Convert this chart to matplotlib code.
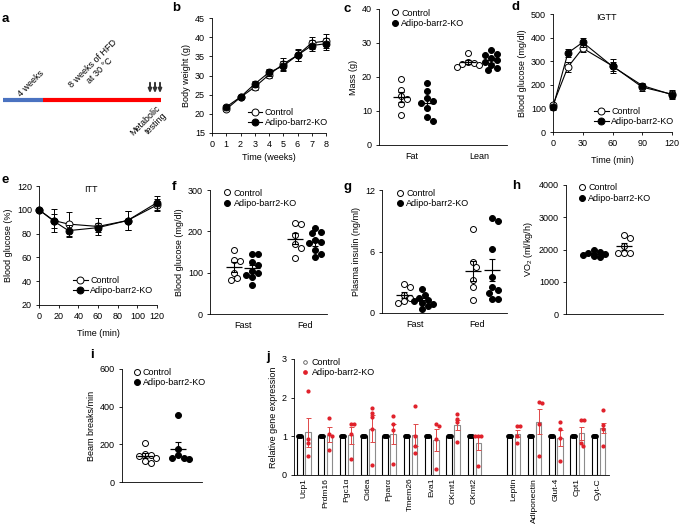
import numpy as np
import matplotlib
matplotlib.use('Agg')
import matplotlib.pyplot as plt
from matplotlib.lines import Line2D

plt.rcParams['font.family'] = ['Liberation Sans', 'DejaVu Sans']
plt.rcParams['mathtext.fontset'] = 'custom'
plt.rcParams['mathtext.rm'] = 'Liberation Sans'
plt.rcParams['font.size'] = 6.5
plt.rcParams['axes.linewidth'] = 0.6
plt.rcParams['xtick.major.width'] = 0.6
plt.rcParams['ytick.major.width'] = 0.6
plt.rcParams['xtick.major.size'] = 2.5
plt.rcParams['ytick.major.size'] = 2.5
plt.rcParams['xtick.major.pad'] = 2.5
plt.rcParams['ytick.major.pad'] = 2.5
plt.rcParams['axes.labelpad'] = 3

# ---------------- data ----------------
weeks = [1, 2, 3, 4, 5, 6, 7, 8]
bw_ctrl = [21.2, 24.3, 27.0, 30.2, 33.0, 35.3, 38.5, 39.0]
bw_ctrl_err = [0.5, 0.5, 0.8, 0.9, 1.5, 1.5, 1.5, 1.8]
bw_ko = [21.8, 24.4, 27.8, 30.8, 32.5, 35.3, 37.8, 38.3]
bw_ko_err = [0.4, 0.4, 0.8, 1.0, 1.3, 1.4, 1.4, 1.6]

fat_ctrl = [19.5, 16.3, 14.5, 13.5, 12.0, 8.7]
fat_ko = [18.3, 16.0, 13.8, 12.8, 12.5, 10.8, 8.2, 7.2]
lean_ctrl = [27.2, 24.3, 24.0, 23.8, 23.5, 23.0]
lean_ko = [27.8, 26.8, 26.5, 25.5, 25.0, 24.3, 23.5, 22.5, 22.0]

igtt_t = [0, 15, 30, 60, 90, 120]
igtt_ctrl = [115, 275, 355, 280, 190, 160]
igtt_ctrl_err = [10, 20, 15, 28, 15, 15]
igtt_ko = [105, 335, 380, 278, 197, 158]
igtt_ko_err = [10, 18, 18, 20, 12, 18]

itt_t = [0, 15, 30, 60, 90, 120]
itt_ctrl = [100, 91, 88, 86, 91, 104]
itt_ctrl_err = [0, 9.5, 10, 7, 8, 5]
itt_ko = [100, 90.5, 82.5, 85, 91, 106]
itt_ko_err = [0, 6, 5, 4, 8, 6]

glc_fast_ctrl = [155, 130, 128, 100, 88, 82]
glc_fast_ko = [145, 145, 125, 118, 105, 100, 95, 90, 70]
glc_fed_ctrl = [220, 218, 190, 170, 160, 135]
glc_fed_ko = [207, 198, 195, 178, 175, 172, 155, 145, 137]

ins_fast_ctrl = [2.8, 2.5, 1.8, 1.5, 1.2, 1.0]
ins_fast_ko = [2.3, 1.8, 1.5, 1.3, 1.2, 1.0, 0.9, 0.7, 0.4]
ins_fed_ctrl = [8.2, 5.0, 4.5, 3.2, 2.5, 1.3]
ins_fed_ko = [9.3, 9.0, 6.2, 3.5, 2.5, 2.2, 2.0, 1.4, 1.4]

vo2_ko = [1980, 1930, 1900, 1870, 1840, 1800, 1760]
vo2_ctrl = [2450, 2350, 2100, 1900, 1900, 1900]

beam_ctrl = [205, 150, 145, 140, 130, 110, 100]
beam_ko = [355, 175, 145, 130, 125, 120]

genes = ['Ucp1', 'Prdm16', 'Pgc1α', 'Cidea', 'Pparα', 'Tmem26', 'Eva1', 'CKmt1',
         'CKmt2', 'Leptin', 'Adiponectin', 'Glut-4', 'Cpt1', 'Cyt-C']
ctrl_mean = [1.0] * 14
ko_mean = [1.1, 1.04, 1.03, 1.2, 1.06, 1.03, 0.9, 1.29, 0.82, 1.07, 1.38, 0.96, 1.08, 1.21]
ko_sem = [0.37, 0.19, 0.22, 0.34, 0.26, 0.28, 0.28, 0.12, 0.17, 0.1, 0.33, 0.21, 0.17, 0.13]
ko_points = [[2.18, 0.92, 0.84, 0.5], [1.48, 1.05, 1.02, 0.64], [1.33, 1.31, 1.05, 0.41],
             [1.72, 1.61, 1.5, 1.2, 0.27], [1.53, 1.31, 1.16, 0.29], [1.79, 1.0, 0.75, 0.58],
             [1.31, 1.28, 0.92, 0.15], [1.59, 1.44, 1.36, 0.85], [1.0, 1.0, 1.0, 0.24],
             [1.26, 1.26, 1.0, 0.82], [1.88, 1.87, 1.31, 0.49], [1.38, 1.2, 0.95, 0.35],
             [1.42, 1.42, 0.82, 0.75], [1.67, 1.29, 1.18, 0.75]]
ctrl_points = [[1.0, 1.0, 1.0, 1.0]] * 14

# ---------------- layout helpers ----------------
W, H = 679, 524
fig = plt.figure(figsize=(W / 100, H / 100), dpi=100)


def add_ax(l, t, r, b):
    ax = fig.add_axes([l / W, 1 - b / H, (r - l) / W, (b - t) / H])
    ax.spines['top'].set_visible(False)
    ax.spines['right'].set_visible(False)
    return ax


def label(x, y, s):
    fig.text(x / W, 1 - y / H, s, fontsize=9.5, fontweight='bold', ha='left', va='center')


def swarm_px(ax, vals, d):
    ys = ax.transData.transform(np.column_stack([np.zeros(len(vals)), vals]))[:, 1]
    placed, offs = [], []
    for yp in ys:
        cand = 0.0
        for k in range(60):
            cand = 0.0 if k == 0 else ((k + 1) // 2) * d * 0.5 * (1 if k % 2 else -1)
            if all((cand - ox) ** 2 + (yp - oy) ** 2 >= d * d * 0.9 for ox, oy in placed):
                break
        placed.append((cand, yp))
        offs.append(cand)
    return np.array(offs)


def dot_group(ax, xc, vals, filled, ms=4.3, d=5.6, hw=8):
    # x data units == pixels in these axes
    offs = swarm_px(ax, vals, d)
    ax.plot(xc + offs, vals, 'o', ms=ms, mfc='black' if filled else 'white', mec='black',
            mew=0.7, ls='none', clip_on=False, zorder=3)
    v = np.asarray(vals, float)
    m = v.mean()
    s = v.std(ddof=1) / np.sqrt(len(v))
    ax.hlines(m, xc - hw, xc + hw, color='k', lw=0.9, zorder=4)
    ax.errorbar(xc, m, yerr=s, fmt='none', ecolor='k', elinewidth=0.8, capsize=2.3,
                capthick=0.8, zorder=4)


def dot_legend(ax, loc, bbox, ms=4.3):
    h = [Line2D([], [], marker='o', ls='none', ms=ms, mfc='white', mec='k', mew=0.7),
         Line2D([], [], marker='o', ls='none', ms=ms, mfc='k', mec='k', mew=0.7)]
    ax.legend(h, ['Control', 'Adipo-barr2-KO'], loc=loc, bbox_to_anchor=bbox, frameon=False,
              handletextpad=0.2, labelspacing=0.15, borderaxespad=0, handlelength=1.0,
              fontsize=6.5)


def line_legend(ax, loc, bbox):
    h = [Line2D([], [], marker='o', color='k', lw=0.8, ms=5, mfc='white', mec='k', mew=0.7),
         Line2D([], [], marker='o', color='k', lw=0.8, ms=5, mfc='k', mec='k', mew=0.7)]
    ax.legend(h, ['Control', 'Adipo-barr2-KO'], loc=loc, bbox_to_anchor=bbox, frameon=False,
              handletextpad=0.3, labelspacing=0.15, borderaxespad=0, handlelength=1.6,
              fontsize=6.5)


def line_panel(ax, x, c, ce, k, ke):
    ax.errorbar(x, c, yerr=ce, color='k', lw=0.8, marker='o', ms=5, mfc='white', mec='k',
                mew=0.7, capsize=2.3, elinewidth=0.7, capthick=0.7, clip_on=False, zorder=3)
    ax.errorbar(x, k, yerr=ke, color='k', lw=0.8, marker='o', ms=5, mfc='k', mec='k',
                mew=0.7, capsize=2.3, elinewidth=0.7, capthick=0.7, clip_on=False, zorder=4)


# ---------------- a ----------------
axa = fig.add_axes([0, 1 - 170 / H, 170 / W, 170 / H])
axa.set_xlim(0, 170)
axa.set_ylim(170, 0)
axa.axis('off')
axa.plot([3, 43], [100, 100], color='#4a72c0', lw=3, solid_capstyle='butt')
axa.plot([43, 161], [100, 100], color='#ff0000', lw=3, solid_capstyle='butt')
for xa in [150, 155, 160]:
    axa.annotate('', xy=(xa, 96), xytext=(xa, 80),
                 arrowprops=dict(arrowstyle='-|>,head_width=0.15,head_length=0.35',
                                 color='#333333', lw=1.4))
axa.text(31, 84, '4 weeks', rotation=45, ha='center', va='center', fontsize=6.5)
axa.text(96, 67, '8 weeks of HFD\nat 30 °C', rotation=45, ha='center', va='center',
         fontsize=6.5, multialignment='center', linespacing=1.1)
axa.text(149, 124, 'Metabolic\ntesting', rotation=45, ha='center', va='center',
         fontsize=6.5, multialignment='right', linespacing=1.1)
label(2, 19, 'a')

# ---------------- b ----------------
axb = add_ax(212, 18, 326, 133)
line_panel(axb, weeks, bw_ctrl, bw_ctrl_err, bw_ko, bw_ko_err)
axb.set_xlim(0, 8)
axb.set_ylim(15, 45)
axb.set_xticks(range(0, 9))
axb.set_yticks(range(15, 46, 5))
axb.set_xlabel('Time (weeks)')
axb.set_ylabel('Body weight (g)')
line_legend(axb, 'lower right', (1.05, 0.02))
label(172, 8, 'b')

# ---------------- c ----------------
axc = add_ax(379, 9, 507, 145)
axc.set_xlim(0, 128)
axc.set_ylim(0, 40)
axc.set_yticks([0, 10, 20, 30, 40])
dot_group(axc, 22, fat_ctrl, False)
dot_group(axc, 48, fat_ko, True)
dot_group(axc, 89, lean_ctrl, False)
dot_group(axc, 112, lean_ko, True)
axc.set_xticks([33, 100])
axc.set_xticklabels(['Fat', 'Lean'])
axc.tick_params(axis='x', length=0, pad=5)
axc.set_ylabel('Mass (g)')
dot_legend(axc, 'upper left', (0.06, 1.03))
label(343, 9, 'c')

# ---------------- d ----------------
axd = add_ax(553, 14, 672, 132)
line_panel(axd, igtt_t, igtt_ctrl, igtt_ctrl_err, igtt_ko, igtt_ko_err)
axd.set_xlim(0, 120)
axd.set_ylim(0, 500)
axd.set_xticks([0, 30, 60, 90, 120])
axd.set_yticks(range(0, 501, 100))
axd.set_xlabel('Time (min)', labelpad=6)
axd.set_ylabel('Blood glucose (mg/dl)')
axd.text(0.45, 0.97, 'IGTT', transform=axd.transAxes, ha='center', va='center')
line_legend(axd, 'lower right', (1.05, 0.02))
label(512, 7, 'd')

# ---------------- e ----------------
axe = add_ax(39, 186, 157, 305)
line_panel(axe, itt_t, itt_ctrl, itt_ctrl_err, itt_ko, itt_ko_err)
axe.set_xlim(0, 120)
axe.set_ylim(20, 120)
axe.set_xticks(range(0, 121, 20))
axe.set_yticks(range(20, 121, 20))
axe.set_xlabel('Time (min)', labelpad=6)
axe.set_ylabel('Blood glucose (%)')
axe.text(0.44, 0.97, 'ITT', transform=axe.transAxes, ha='center', va='center')
line_legend(axe, 'lower right', (1.0, 0.05))
label(2, 180, 'e')

# ---------------- f ----------------
axf = add_ax(210, 190, 327, 314)
axf.set_xlim(0, 117)
axf.set_ylim(0, 300)
axf.set_yticks([0, 100, 200, 300])
dot_group(axf, 24, glc_fast_ctrl, False)
dot_group(axf, 42, glc_fast_ko, True)
dot_group(axf, 85, glc_fed_ctrl, False)
dot_group(axf, 105, glc_fed_ko, True)
axf.set_xticks([33, 95])
axf.set_xticklabels(['Fast', 'Fed'])
axf.tick_params(axis='x', length=0, pad=5)
axf.set_ylabel('Blood glucose (mg/dl)')
dot_legend(axf, 'upper left', (0.08, 1.04))
label(172, 187, 'f')

# ---------------- g ----------------
axg = add_ax(382, 190, 507, 313)
axg.set_xlim(0, 125)
axg.set_ylim(0, 12)
axg.set_yticks([0, 6, 12])
dot_group(axg, 22, ins_fast_ctrl, False)
dot_group(axg, 40, ins_fast_ko, True)
dot_group(axg, 91, ins_fed_ctrl, False)
dot_group(axg, 110, ins_fed_ko, True)
axg.set_xticks([33, 95])
axg.set_xticklabels(['Fast', 'Fed'])
axg.tick_params(axis='x', length=0, pad=5)
axg.set_ylabel('Plasma insulin (ng/ml)')
dot_legend(axg, 'upper left', (0.08, 1.04))
label(343, 187, 'g')

# ---------------- h ----------------
axh = add_ax(566, 185, 663, 314)
axh.set_xlim(0, 97)
axh.set_ylim(0, 4000)
axh.set_yticks(range(0, 4001, 1000))
dot_group(axh, 28, vo2_ko, True)
dot_group(axh, 58, vo2_ctrl, False)
axh.set_xticks([])
axh.set_ylabel('VO$_2$ (ml/kg/h)')
dot_legend(axh, 'upper left', (0.08, 1.04))
label(512, 186, 'h')

# ---------------- i ----------------
axi = add_ax(122, 369, 202, 482)
axi.set_xlim(0, 80)
axi.set_ylim(0, 600)
axi.set_yticks([0, 200, 400, 600])
dot_group(axi, 23, beam_ctrl, False)
dot_group(axi, 56, beam_ko, True)
axi.set_xticks([])
axi.set_ylabel('Beam breaks/min')
dot_legend(axi, 'upper left', (0.08, 1.04))
label(90, 355, 'i')

# ---------------- j ----------------
axj = add_ax(294, 359, 609, 475)
unit = 21.3
pos = np.array(list(range(9)) + [9.83 + k for k in range(5)])
axj.set_xlim(-10 / unit, (609 - 294 - 10) / unit)
axj.set_ylim(0, 3)
axj.set_yticks([0, 1, 2, 3])
bw = 0.26
off = 0.19
axj.bar(pos - off, ctrl_mean, width=bw, facecolor='white', edgecolor='black', lw=0.8, zorder=2)
axj.bar(pos + off, ko_mean, width=bw, facecolor='white', edgecolor='#8c8c8c', lw=0.8, zorder=2)
axj.errorbar(pos + off, ko_mean, yerr=ko_sem, fmt='none', ecolor='#e04848', elinewidth=0.7,
             capsize=1.8, capthick=0.7, zorder=3)
for i in range(len(genes)):
    cp = np.asarray(ctrl_points[i])
    axj.plot(pos[i] - off + np.linspace(-0.07, 0.07, len(cp)), cp, 'o', ms=2.4, color='black',
             ls='none', zorder=4)
    kp = np.asarray(ko_points[i])
    o = swarm_px(axj, kp, 3.0) / unit
    axj.plot(pos[i] + off + o, kp, 'o', ms=2.0, color='#e0202a', ls='none', zorder=5)
axj.set_xticks(pos)
axj.set_xticklabels(genes, rotation=90, fontsize=6.1)
axj.tick_params(axis='x', length=0, pad=2)
axj.set_ylabel('Relative gene expression')
hj = [Line2D([], [], marker='o', ls='none', ms=2.6, mfc='white', mec='#555555', mew=0.6),
      Line2D([], [], marker='o', ls='none', ms=2.4, color='#e0202a')]
axj.legend(hj, ['Control', 'Adipo-barr2-KO'], loc='upper left', bbox_to_anchor=(0.01, 1.04),
           frameon=False, handletextpad=0.2, labelspacing=0.15, borderaxespad=0,
           handlelength=1.0, fontsize=6.5)
label(266, 357, 'j')

fig.savefig('out.png', dpi=100)
